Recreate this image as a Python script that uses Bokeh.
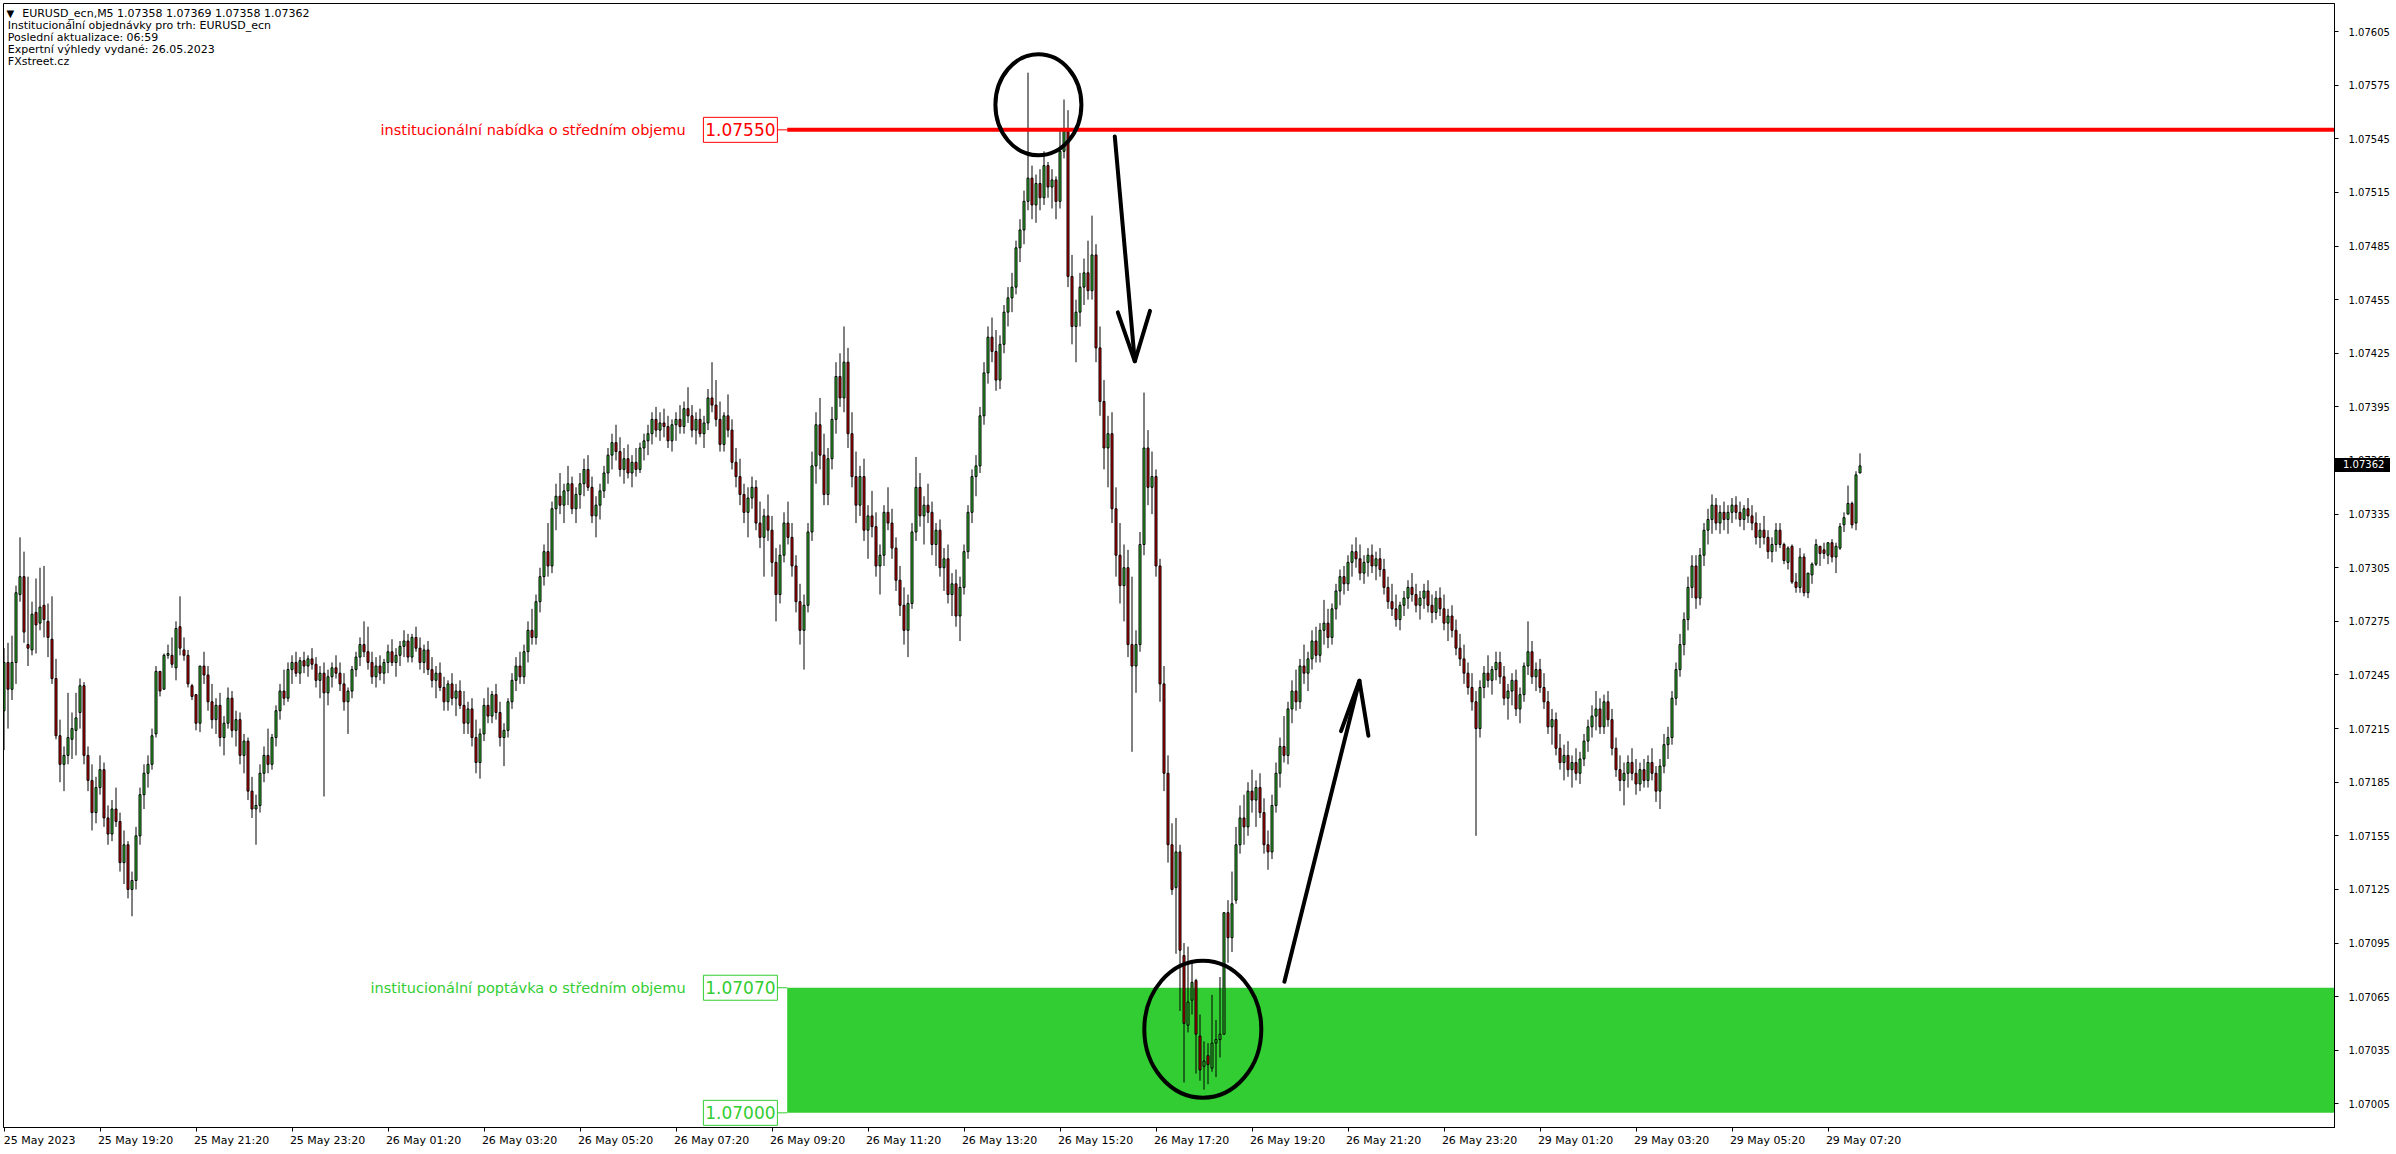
from bokeh.plotting import figure
from bokeh.models import FixedTicker, PrintfTickFormatter, Label, Range1d, Div
from bokeh.layouts import column
from bokeh.core.properties import value
from bokeh.embed import file_html
from bokeh.resources import INLINE
import numpy as np

# ---------------- data (EURUSD_ecn, M5) ----------------
# prices are given in points (1e-5) above 1.07000
BASE = 1.07000
PT = 0.00001

OPEN = [
    225,252,237,252,290,300,262,259,280,274,284,275,265,243,211,195,200,209,214,224,239,200,186,168,
    182,192,165,156,170,163,140,150,125,130,155,178,190,195,212,247,237,256,256,249,272,259,256,239,
    234,218,250,245,230,220,228,210,218,232,214,220,200,208,180,170,172,190,200,195,210,225,236,232,
    248,252,246,253,250,254,251,242,246,235,244,249,246,240,230,236,248,255,262,258,252,244,250,246,
    252,258,252,256,261,264,255,266,260,252,259,248,242,246,238,230,240,232,236,228,218,226,210,196,
    212,228,222,234,224,210,214,230,242,250,244,258,270,266,286,300,314,306,338,345,340,348,352,338,
    346,352,360,350,334,340,348,358,368,375,370,360,366,358,364,360,372,376,380,388,382,386,384,376,
    385,388,384,394,390,382,388,380,386,400,396,388,374,390,382,364,356,346,336,344,350,330,322,334,
    326,308,290,312,330,322,306,286,270,284,325,362,385,368,346,366,388,412,400,420,380,356,340,356,
    326,334,328,306,312,336,330,316,298,284,270,285,325,350,334,340,336,318,326,305,310,290,296,278,
    294,314,336,356,362,390,414,434,426,410,430,448,456,462,484,494,510,523,508,520,512,530,518,522,
    510,538,550,468,440,448,462,470,460,480,428,398,372,380,338,312,295,305,262,250,262,318,372,350,
    356,306,240,190,150,126,146,88,49,63,74,43,26,32,25,39,41,44,112,98,119,150,165,160,
    180,175,182,168,150,146,172,190,205,200,226,236,230,250,246,254,264,256,270,274,266,282,292,300,
    296,308,314,310,302,308,312,306,310,304,294,286,282,276,284,288,294,290,284,288,292,284,280,288,
    282,274,278,270,260,254,246,238,230,215,238,246,242,248,252,244,232,236,242,226,234,250,258,244,
    248,238,230,216,220,204,196,200,192,196,190,198,208,216,222,226,216,230,220,204,192,186,190,196,
    190,184,192,186,196,190,180,194,206,210,232,248,262,276,294,306,288,312,326,332,340,330,336,332,
    336,340,336,332,338,334,330,322,326,322,314,318,326,318,308,317,297,294,311,291,301,307,317,315,
    312,319,311,316,329,335,341,330,358,
]
HIGH = [
    260,263,267,295,322,314,300,286,299,305,306,285,289,254,220,205,235,224,235,243,241,205,195,188,
    200,196,172,175,182,168,158,152,135,160,182,195,200,215,250,247,257,262,266,275,289,266,259,240,
    234,250,258,250,240,232,235,222,238,236,225,224,212,210,188,178,195,205,215,212,228,240,248,252,
    256,258,255,258,256,260,255,250,252,248,252,256,252,246,238,250,258,266,275,272,258,255,256,254,
    262,265,260,264,270,268,268,272,266,262,264,255,250,252,244,242,246,240,242,236,230,232,220,215,
    232,238,236,240,230,218,232,246,255,258,262,275,282,290,305,318,330,342,352,358,352,362,356,350,
    358,366,368,356,345,352,362,372,380,385,378,372,374,368,372,375,380,385,392,395,392,394,390,388,
    392,396,398,406,396,392,394,390,405,420,410,398,392,402,388,372,366,352,350,356,354,342,338,346,
    334,316,318,336,342,330,312,296,290,330,370,392,400,380,372,395,420,425,440,428,392,370,362,366,
    340,348,336,318,340,350,338,322,306,294,290,330,367,358,345,352,342,330,332,316,318,302,304,300,
    318,340,360,368,395,420,440,445,438,435,452,462,470,488,500,516,582,530,525,528,538,532,528,524,
    551,567,561,480,455,470,478,488,502,486,440,410,390,392,350,330,318,315,300,270,325,403,382,370,
    360,310,250,200,162,165,150,95,93,84,75,55,40,39,66,52,76,112,119,135,160,172,178,185,
    192,186,190,176,158,178,196,210,222,230,242,248,254,262,258,270,272,274,287,282,285,296,304,306,
    312,318,322,318,312,316,318,314,316,310,300,296,290,286,292,298,302,296,292,296,298,290,292,294,
    290,282,284,276,268,262,252,246,236,242,250,256,250,258,258,250,240,246,248,238,252,275,264,252,
    254,246,236,226,224,212,206,208,200,204,202,212,220,228,236,232,234,236,226,210,200,196,200,204,
    198,196,198,200,204,194,198,212,216,236,252,268,280,300,312,312,316,330,338,346,344,340,342,340,
    344,345,342,340,344,340,336,330,334,326,322,330,330,319,317,318,302,316,313,302,308,321,317,319,
    319,321,319,330,336,351,342,359,369,
]
LOW = [
    203,215,231,240,286,263,250,256,257,270,266,255,240,209,185,180,195,198,200,215,195,180,158,162,
    178,160,150,152,160,135,128,120,110,125,150,170,182,192,210,233,237,254,249,242,256,253,238,231,
    214,213,240,225,215,212,205,200,215,210,205,195,190,175,165,150,168,185,190,192,205,220,228,230,
    240,244,240,246,244,248,238,232,177,228,238,243,236,225,212,232,244,250,255,248,240,238,242,240,
    246,250,244,250,255,252,252,258,248,246,245,238,232,236,225,225,228,222,226,212,212,205,190,187,
    208,218,218,220,205,194,210,226,236,240,240,252,262,262,280,295,300,302,326,335,330,340,335,330,
    338,345,348,330,322,332,344,352,360,365,356,352,355,350,356,358,365,368,374,378,376,378,372,370,
    376,380,380,386,378,374,378,372,382,392,384,370,370,378,360,350,340,330,322,338,326,316,300,320,
    300,275,285,308,318,300,280,262,248,280,320,352,360,340,340,360,380,395,392,372,350,330,334,320,
    310,322,300,290,306,326,310,292,278,262,255,282,320,328,318,330,312,306,300,292,285,278,272,264,
    290,310,330,345,358,385,408,420,404,405,425,440,448,458,476,486,505,500,498,505,508,512,506,500,
    506,534,462,430,420,440,452,455,455,420,390,360,350,330,300,285,275,255,202,235,258,312,340,335,
    300,230,180,140,122,89,57,17,45,55,22,18,13,16,23,20,31,44,84,90,117,145,150,155,
    168,160,165,145,136,142,168,182,196,195,218,225,226,240,236,248,252,252,262,260,262,276,284,290,
    292,300,305,298,296,300,302,298,300,290,282,278,272,270,278,282,286,280,276,282,280,274,276,278,
    270,264,266,256,250,240,234,225,155,210,232,238,234,242,240,228,220,228,222,218,230,245,240,236,
    235,226,212,206,200,192,186,188,182,186,184,194,202,210,214,212,212,216,200,188,180,172,182,186,
    178,180,182,182,186,174,170,190,198,206,228,244,256,270,288,282,284,306,318,324,326,324,326,324,
    330,332,328,326,330,326,318,316,318,310,308,314,316,307,304,296,291,291,289,288,296,306,306,310,
    307,308,302,315,325,335,327,326,358,
]
CLOSE = [
    252,237,252,291,300,269,260,279,273,283,276,266,243,211,195,200,210,215,221,239,200,186,168,182,
    192,165,156,170,163,140,150,125,130,155,178,190,195,211,247,236,256,257,251,271,260,256,240,233,
    218,250,245,230,220,228,210,218,232,214,220,200,208,180,170,172,190,200,195,210,225,236,232,248,
    252,246,253,250,254,251,242,246,235,244,249,246,240,230,236,248,255,262,258,252,244,250,246,252,
    258,252,256,261,264,255,266,260,252,259,248,242,246,238,230,240,232,236,228,218,226,210,196,212,
    228,222,234,224,210,214,230,242,250,244,258,270,266,286,300,314,306,338,345,340,348,352,338,346,
    352,360,350,334,340,348,358,368,375,370,360,366,358,364,360,372,376,380,388,382,386,384,376,385,
    388,384,394,390,382,388,380,386,400,396,388,374,390,382,364,356,346,336,344,350,330,322,334,326,
    308,290,312,330,322,306,286,270,284,325,362,385,368,346,366,388,412,400,420,380,356,340,356,326,
    334,328,306,312,336,330,316,298,284,270,285,325,350,334,340,336,318,326,305,310,290,296,278,294,
    314,336,356,362,390,414,434,426,410,430,448,456,462,484,494,510,523,508,520,512,530,518,522,510,
    538,550,468,440,448,462,470,460,480,428,398,372,380,338,312,295,305,262,250,262,318,372,350,356,
    306,240,190,150,125,146,91,50,62,73,44,24,29,27,39,41,44,112,98,117,150,165,160,180,
    175,182,168,150,146,172,190,205,200,226,236,230,250,246,254,264,256,270,274,266,282,292,300,296,
    308,314,310,302,308,312,306,310,304,294,286,282,276,284,288,294,290,284,288,292,284,280,288,282,
    274,278,270,260,254,246,238,230,215,238,246,242,248,252,244,232,236,242,226,234,250,258,244,248,
    238,230,216,220,204,196,200,192,196,190,198,208,216,222,226,216,230,220,204,192,186,190,196,190,
    184,192,186,196,190,180,194,206,210,232,248,262,276,294,306,288,312,326,332,340,330,336,332,336,
    340,336,332,338,334,330,322,326,322,314,318,326,318,309,316,297,294,311,291,302,307,318,313,313,
    319,311,317,328,333,341,329,357,362,
]

# time axis: bar index of each labelled time
TIME_TICK_BARS = [0, 24, 48, 72, 96, 120, 144, 168, 192, 216, 240, 264, 288, 312, 336, 360, 384, 408, 432, 456]
TIME_TICK_LABELS = ["25 May 2023", "25 May 19:20", "25 May 21:20", "25 May 23:20", "26 May 01:20",
                    "26 May 03:20", "26 May 05:20", "26 May 07:20", "26 May 09:20", "26 May 11:20",
                    "26 May 13:20", "26 May 15:20", "26 May 17:20", "26 May 19:20", "26 May 21:20",
                    "26 May 23:20", "29 May 01:20", "29 May 03:20", "29 May 05:20", "29 May 07:20"]
PRICE_TICKS = [1.07005, 1.07035, 1.07065, 1.07095, 1.07125, 1.07155, 1.07185, 1.07215, 1.07245,
               1.07275, 1.07305, 1.07335, 1.07365, 1.07395, 1.07425, 1.07455, 1.07485, 1.07515,
               1.07545, 1.07575, 1.07605]

SUPPLY_LEVEL = 1.07550
DEMAND_TOP = 1.07070
DEMAND_BOTTOM = 1.07000
LAST_PRICE = 1.07362
SUPPLY_TEXT = "institucionální nabídka o středním objemu"
DEMAND_TEXT = "institucionální poptávka o středním objemu"
HEADER_LINES = ["EURUSD_ecn,M5  1.07358 1.07369 1.07358 1.07362",
                "Institucionální objednávky pro trh: EURUSD_ecn",
                "Poslední aktualizace: 06:59",
                "Expertní výhledy vydané: 26.05.2023",
                "FXstreet.cz"]

# ---------------- layout / style ----------------
BORDER_L, BORDER_T = 3, 3
FRAME_W, FRAME_H = 2331, 1124
X_START = -0.125
X_END = X_START + FRAME_W / 4.0
Y_START = BASE - 8.2 * PT
Y_END = BASE + 620.7 * PT
FONT = "DejaVu Sans"
GREEN = "#32cd32"
RED = "#ff0000"
BULL = "#32cd32"
BEAR = "#e00000"
ZONE_START_BAR = 195.8          # where the drawn levels start
LEVEL_BOX_X = 184.1
LEVEL_TEXT_X = 170.4

n = len(CLOSE)
assert len(OPEN) == n and len(HIGH) == n and len(LOW) == n
idx = np.arange(n)
o = BASE + np.array(OPEN) * PT
h = BASE + np.array(HIGH) * PT
l = BASE + np.array(LOW) * PT
c = BASE + np.array(CLOSE) * PT

p = figure(frame_width=FRAME_W, frame_height=FRAME_H,
           x_range=Range1d(X_START, X_END), y_range=Range1d(Y_START, Y_END),
           y_axis_location="right", output_backend="svg", toolbar_location=None,
           min_border_left=BORDER_L, min_border_top=BORDER_T, min_border_right=0, min_border_bottom=0,
           background_fill_color="white", border_fill_color="white",
           outline_line_color="black", outline_line_width=1)
p.grid.visible = False

# y axis
ya = p.yaxis[0]
ya.ticker = FixedTicker(ticks=PRICE_TICKS)
ya.formatter = PrintfTickFormatter(format="%.5f")
ya.major_tick_out = 4
ya.major_tick_in = 0
ya.minor_tick_line_color = None
ya.axis_line_color = "black"
ya.major_tick_line_color = "black"
ya.major_label_standoff = 10
ya.major_label_text_font = FONT
ya.major_label_text_font_size = "10px"
ya.major_label_text_color = "black"

# x axis: tick marks at the bar, label starting right after it
LABEL_SHIFT = 8.9
xa = p.xaxis[0]
shifted = [b + LABEL_SHIFT for b in TIME_TICK_BARS]
xa.ticker = FixedTicker(ticks=shifted, minor_ticks=TIME_TICK_BARS)
xa.major_label_overrides = {s: t for s, t in zip(shifted, TIME_TICK_LABELS)}
xa.major_tick_line_color = None
xa.major_tick_out = 4
xa.major_tick_in = 0
xa.minor_tick_out = 4
xa.minor_tick_in = 0
xa.minor_tick_line_color = "black"
xa.axis_line_color = "black"
xa.major_label_standoff = 2
xa.major_label_text_font = FONT
xa.major_label_text_font_size = "11px"
xa.major_label_text_color = "black"

# demand zone (background)
p.quad(left=[ZONE_START_BAR], right=[X_END + 10], bottom=[DEMAND_BOTTOM], top=[DEMAND_TOP],
       fill_color=GREEN, line_color=None)

# candles
p.segment(idx, h, idx, l, line_color="black", line_width=1)
up = c >= o
dn = ~up
p.vbar(x=idx[up], width=0.5, top=c[up], bottom=o[up], fill_color=BULL, line_color="black", line_width=1)
p.vbar(x=idx[dn], width=0.5, top=o[dn], bottom=c[dn], fill_color=BEAR, line_color="black", line_width=1)

# supply line
p.ray(x=[ZONE_START_BAR], y=[SUPPLY_LEVEL], length=0, angle=0, line_color=RED, line_width=4)

# level price boxes with connectors and texts
for lvl, col in [(SUPPLY_LEVEL, RED), (DEMAND_TOP, GREEN), (DEMAND_BOTTOM, GREEN)]:
    p.segment(x0=[LEVEL_BOX_X + 37 / 4.0], y0=[lvl], x1=[ZONE_START_BAR], y1=[lvl], line_color=col, line_width=1)
    p.rect(x=[LEVEL_BOX_X], y=[lvl], width=74, height=25, width_units="screen", height_units="screen",
           fill_color="white", line_color=col, line_width=1)
    p.text(x=[LEVEL_BOX_X], y=[lvl], text=["%.5f" % lvl], text_align="center", text_baseline="middle",
           text_font=value(FONT), text_font_size="17px", text_color=col)

p.text(x=[LEVEL_TEXT_X], y=[SUPPLY_LEVEL], text=[SUPPLY_TEXT], text_align="right", text_baseline="middle",
       text_font=value(FONT), text_font_size="14.5px", text_color=RED)
p.text(x=[LEVEL_TEXT_X], y=[DEMAND_TOP], text=[DEMAND_TEXT], text_align="right", text_baseline="middle",
       text_font=value(FONT), text_font_size="14.5px", text_color=GREEN)

# hand-drawn circles and arrows (bar index, points above BASE)
ELLIPSES = [(258.6, 564.0, 21.5, 56.5), (299.7, 46.8, 29.25, 76.6)]
for ex, ey, ew, eh in ELLIPSES:
    p.ellipse(x=[ex], y=[BASE + ey * PT], width=ew, height=eh * PT, fill_color=None,
              line_color="black", line_width=4)

ARROWS = [
    [(277.7, 546.3), (282.7, 420.5)],
    [(278.45, 447.9), (282.7, 420.5), (286.5, 448.7)],
    [(320.1, 73.4), (338.85, 241.8)],
    [(334.25, 213.6), (338.85, 241.8), (341.1, 211.0)],
]
p.multi_line(xs=[[q[0] for q in a] for a in ARROWS], ys=[[BASE + q[1] * PT for q in a] for a in ARROWS],
             line_color="black", line_width=4, line_cap="round", line_join="round")

# header text (screen units from the frame's left / bottom)
HEADER_CENTERS = [13, 25, 37, 49, 61]
p.add_layout(Label(x=3, y=FRAME_H - (HEADER_CENTERS[0] - BORDER_T), x_units="screen", y_units="screen",
                   text="▼", text_font=FONT, text_font_size="10px", text_color="black",
                   text_baseline="middle"))
for i, line in enumerate(HEADER_LINES):
    lx = 18.7 if i == 0 else 4.3
    p.add_layout(Label(x=lx, y=FRAME_H - (HEADER_CENTERS[i] - BORDER_T), x_units="screen", y_units="screen",
                       text=line, text_font=FONT, text_font_size="11px", text_color="black",
                       text_baseline="middle"))

# last price marker on the price scale (an overlay in the axis area, placed with the y scale)
tag_center = BORDER_T + (Y_END - LAST_PRICE) / (Y_END - Y_START) * FRAME_H
TAG_H = 14
tag = Div(text="%.5f" % LAST_PRICE, width=56, height=TAG_H, margin=0,
          styles={"position": "absolute", "left": "%dpx" % (BORDER_L + FRAME_W),
                  "top": "%.1fpx" % (tag_center - TAG_H / 2.0),
                  "background-color": "black", "color": "white", "font-family": FONT,
                  "font-size": "10px", "line-height": "%dpx" % TAG_H, "padding-left": "9px",
                  "box-sizing": "border-box", "z-index": "10", "white-space": "nowrap"})

page = column(p, tag, spacing=0)
open("out.html", "w").write(file_html(page, INLINE))
